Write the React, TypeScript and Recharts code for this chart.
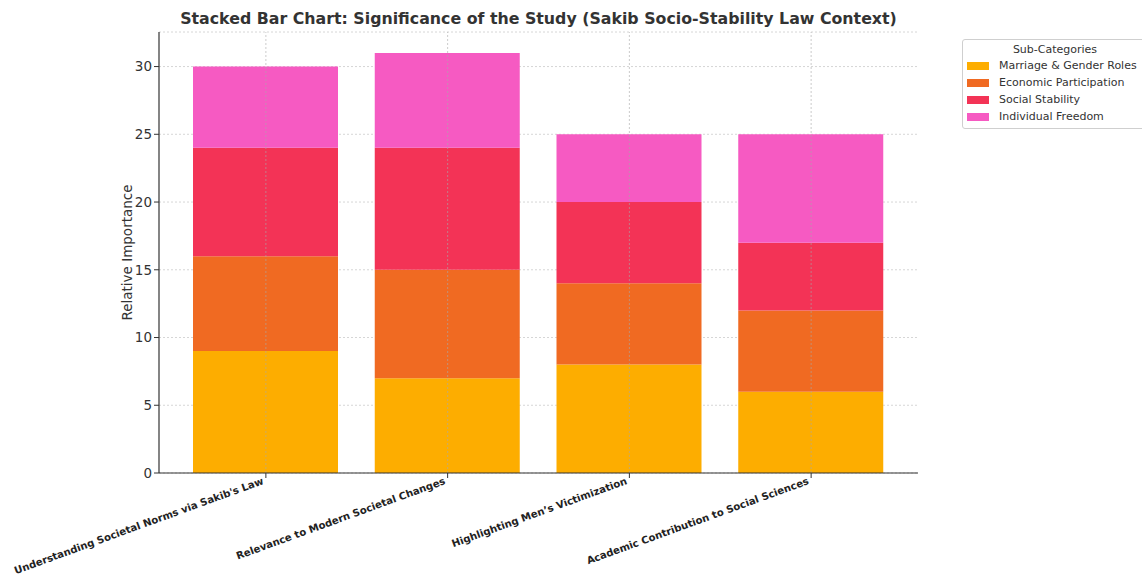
import React from 'react';
import { BarChart, Bar, XAxis, YAxis, CartesianGrid, ReferenceLine } from 'recharts';

const categories = [
  "Understanding Societal Norms via Sakib's Law",
  'Relevance to Modern Societal Changes',
  'Highlighting Men\u2019s Victimization',
  'Academic Contribution to Social Sciences',
];
const seriesNames = ['Marriage & Gender Roles', 'Economic Participation', 'Social Stability', 'Individual Freedom'];
const marriage = [9, 7, 8, 6];
const economic = [7, 8, 6, 6];
const stability = [8, 9, 6, 5];
const freedom = [6, 7, 5, 8];
const colors = ['#FDAD00', '#F06A22', '#F33356', '#F65AC2'];
const yTicks = [0, 5, 10, 15, 20, 25, 30];

const keys = ['marriage', 'economic', 'stability', 'freedom'];
const data = categories.map((name, i) => ({
  name,
  marriage: marriage[i],
  economic: economic[i],
  stability: stability[i],
  freedom: freedom[i],
}));

const FONT = 'DejaVu Sans, sans-serif';

const XTick = (props: any) => {
  const { x, y, payload } = props;
  return (
    <g transform={`translate(${x - 3},${y})`}>
      <text
        x={0}
        y={0}
        dy={4}
        textAnchor="end"
        transform="rotate(-20)"
        fontFamily={FONT}
        fontSize={10.1}
        fontWeight="bold"
        fill="#222"
      >
        {payload.value}
      </text>
    </g>
  );
};

const YLabel = (props: any) => {
  const { viewBox } = props;
  const cx = 127;
  const cy = viewBox.y + viewBox.height / 2;
  return (
    <text
      x={cx}
      y={cy}
      transform={`rotate(-90 ${cx} ${cy})`}
      textAnchor="middle"
      dominantBaseline="central"
      fontFamily={FONT}
      fontSize={13.5}
      fill="#333"
    >
      Relative Importance
    </text>
  );
};

const LegendBox = () => (
  <div
    style={{
      position: 'absolute',
      left: 962,
      top: 39,
      width: 188,
      height: 90,
      border: '1px solid #cfcfcf',
      borderRadius: 3,
      background: '#fff',
      fontFamily: FONT,
      fontSize: 11,
      color: '#333',
      boxSizing: 'border-box',
      padding: '3px 0 0 4px',
    }}
  >
    <div style={{ textAlign: 'center', width: 176, marginBottom: 1 }}>Sub-Categories</div>
    {seriesNames.map((n, i) => (
      <div key={n} style={{ display: 'flex', alignItems: 'center', height: 17 }}>
        <span style={{ display: 'inline-block', width: 22, height: 8, background: colors[i], marginRight: 10 }} />
        <span>{n}</span>
      </div>
    ))}
  </div>
);

export default function App() {
  return (
    <div style={{ position: 'absolute', left: 0, top: 0, width: 1142, height: 575, background: '#fff', overflow: 'hidden' }}>
      <div
        style={{
          position: 'absolute',
          left: 159,
          width: 759,
          top: 9,
          textAlign: 'center',
          fontFamily: FONT,
          fontWeight: 'bold',
          fontSize: 15.8,
          color: '#333',
          whiteSpace: 'nowrap',
        }}
      >
        Stacked Bar Chart: Significance of the Study (Sakib Socio-Stability Law Context)
      </div>
      <BarChart
        width={1142}
        height={575}
        data={data}
        margin={{ top: 32, right: 224, bottom: 0, left: 0 }}
        barSize={145}
      >
        <CartesianGrid stroke="#d6d6d6" strokeDasharray="2 2" vertical={false} />
        <XAxis
          dataKey="name"
          interval={0}
          padding={{ left: 16, right: 16 }}
          tick={<XTick />}
          tickLine={{ stroke: '#333' }}
          tickSize={5}
          axisLine={{ stroke: '#333', strokeWidth: 1.2 }}
          height={102}
        />
        <YAxis
          domain={[0, 32.55]}
          ticks={yTicks}
          tick={{ fontFamily: FONT, fontSize: 13.5, fill: '#333' }}
          tickLine={{ stroke: '#333' }}
          tickSize={5}
          axisLine={{ stroke: '#333', strokeWidth: 1.2 }}
          width={159}
          label={<YLabel />}
        />
        {keys.map((k, i) => (
          <Bar key={k} dataKey={k} stackId="s" fill={colors[i]} name={seriesNames[i]} isAnimationActive={false} />
        ))}
        {categories.map((c) => (
          <ReferenceLine key={c} x={c} stroke="#a8a8a8" strokeOpacity={0.6} strokeDasharray="2 2" />
        ))}
      </BarChart>
      <LegendBox />
    </div>
  );
}
